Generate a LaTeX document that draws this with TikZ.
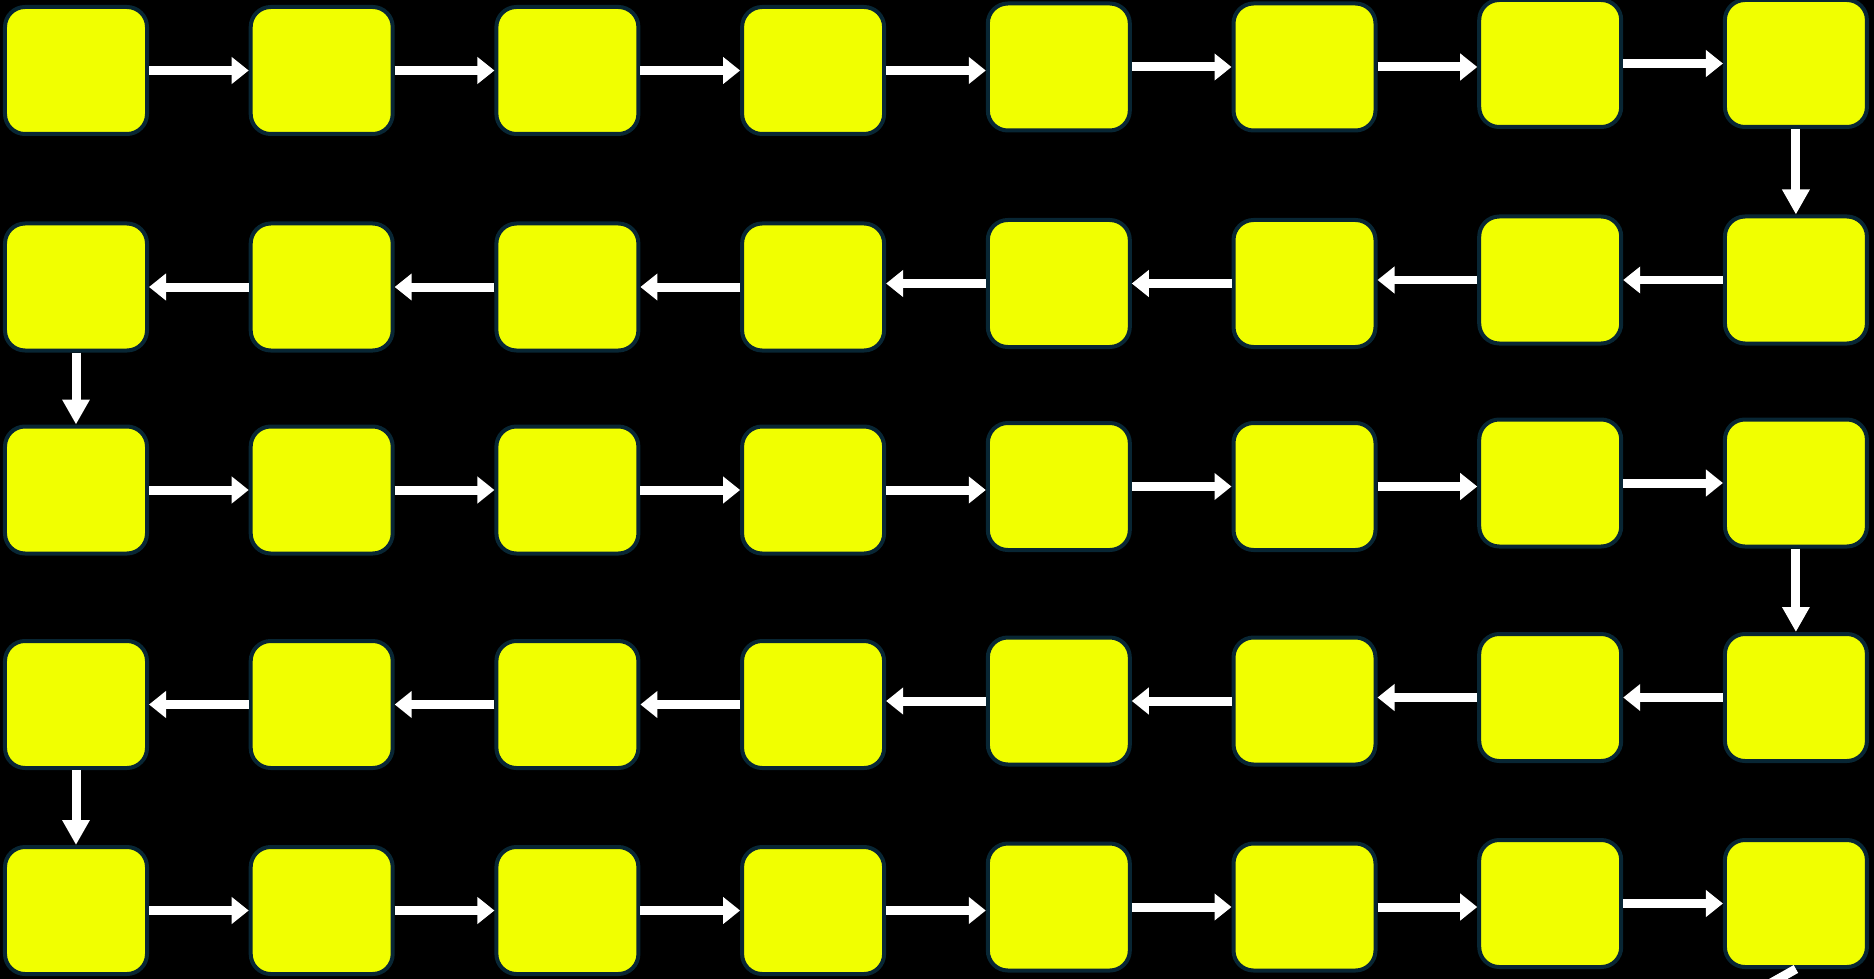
\documentclass[tikz,border=0pt]{standalone}
\usepackage{tikz}
\usetikzlibrary{arrows.meta,calc}

\definecolor{boxfill}{RGB}{241,255,0}
\definecolor{boxline}{RGB}{8,38,52}

\tikzset{
    box/.style={draw=boxline, fill=boxfill, line width=0.04cm, rounded corners=0.2cm,
        minimum width=1.42cm, minimum height=1.27cm, inner sep=0pt},
    hflow/.style={draw=white, line width=0.09cm, -{Triangle[length=0.17cm, width=0.26cm]}},
    vflow/.style={draw=white, line width=0.09cm, -{Triangle[length=0.25cm, width=0.26cm]}}
}

\begin{document}
\begin{tikzpicture}
    % 画布与黑色背景
    \path[use as bounding box] (0, 0) rectangle (18.74, -9.79);
    \clip (0, 0) rectangle (18.74, -9.79);
    \fill[black] (0, 0) rectangle (18.74, -9.79);

    % 5 行 8 列的方块
    \foreach \r/\y in {1/0.705, 2/2.87, 3/4.90, 4/7.045, 5/9.105} {
        \foreach \c/\d in {1/0, 2/0, 3/0, 4/0, 5/0.035, 6/0.035, 7/0.07, 8/0.07} {
            \node[box] (r\r-\c) at ({0.76+2.457*(\c-1)}, {-\y+\d}) {};
        }
    }

    % 奇数行向右
    \foreach \r in {1, 3, 5} {
        \foreach \c [evaluate=\c as \n using int(\c+1)] in {1, ..., 7} {
            \draw[hflow] (r\r-\c.east) -- (r\r-\c.east -| r\r-\n.west);
        }
    }

    % 偶数行向左
    \foreach \r in {2, 4} {
        \foreach \c [evaluate=\c as \n using int(\c+1)] in {1, ..., 7} {
            \draw[hflow] (r\r-\n.west) -- (r\r-\n.west -| r\r-\c.east);
        }
    }

    % 换行箭头
    \foreach \a/\b/\c in {1/2/8, 2/3/1, 3/4/8, 4/5/1} {
        \draw[vflow] (r\a-\c.south) -- (r\a-\c.south |- r\b-\c.north);
    }

    % 出口
    \coordinate (out) at (13.5, -12.2);
    \draw[vflow] (r5-8.south) -- (out);
\end{tikzpicture}
\end{document}
